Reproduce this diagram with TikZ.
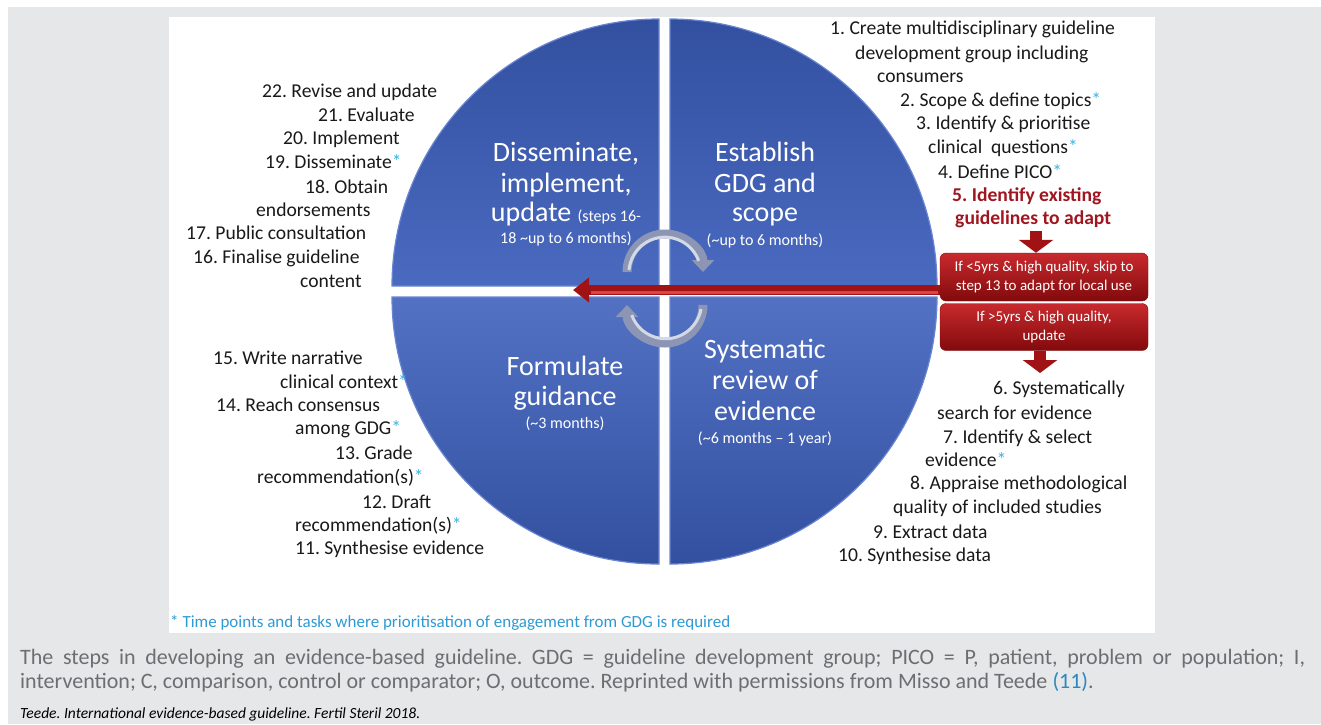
\documentclass[tikz,border=0pt]{standalone}
\usepackage{fontspec}
\setmainfont{Carlito}
\usetikzlibrary{arrows.meta}
\definecolor{bggray}{HTML}{E6E7E8}
\definecolor{qdark}{HTML}{3350A0}
\definecolor{qlight}{HTML}{4A6AC0}
\definecolor{qrim}{HTML}{6A86D2}
\definecolor{astblue}{HTML}{3DB2E2}
\definecolor{footblue}{HTML}{2E9AD4}
\definecolor{capgray}{HTML}{6D6E71}
\definecolor{refblue}{HTML}{2A88C0}
\definecolor{redtxt}{HTML}{A01620}
\definecolor{redtop}{HTML}{C82A2E}
\definecolor{redbot}{HTML}{820A0C}
\definecolor{redarr}{HTML}{A01214}
\definecolor{silver}{HTML}{8C96B4}
\definecolor{silverlt}{HTML}{D4D9E6}
\newcommand{\gdgast}{{\color{astblue}*}}
\frenchspacing
\tikzset{
  lst/.style={anchor=base west, inner sep=0pt, font=\fontsize{19.6}{24}\selectfont, text=black!90},
  redlst/.style={lst, font=\fontsize{19.6}{24}\selectfont\bfseries, text=redtxt},
  qbig/.style={anchor=base, inner sep=0pt, font=\fontsize{28}{31}\selectfont, text=white},
  qsmall/.style={anchor=base, inner sep=0pt, font=\fontsize{16}{19}\selectfont, text=white},
  quad/.style={draw=qrim, line width=1.2pt},
  redbox/.style={rounded corners=6pt, top color=redtop, bottom color=redbot, draw=redbot,
     minimum width=208pt, inner sep=0pt, align=center, text=white,
     font=\fontsize{15}{19}\selectfont},
  circarr/.style={line width=9pt, color=silver, -{Triangle[width=22pt,length=12pt]}},
  blockarr/.style={line width=12pt, color=redarr, -{Triangle[width=34pt,length=13pt]}},
  caps/.style={anchor=base west, inner sep=0pt, font=\fontsize{22}{24}\selectfont, text=capgray}
}
\begin{document}
\begin{tikzpicture}[x=1pt,y=-1pt]
\path[use as bounding box] (0,0) rectangle (1321,724);
\fill[white] (0,0) rectangle (1321,724);
\fill[bggray] (8,7) rectangle (1321,724);
\fill[white] (169,17) rectangle (1155,633);

% quadrants
\def\R{267}
\path[quad, top color=qdark, bottom color=qlight] (659,286) -- ++(-\R,0) arc[start angle=180,end angle=270,radius=\R] -- cycle;
\path[quad, top color=qdark, bottom color=qlight] (670,286) -- ++(0,-\R) arc[start angle=270,end angle=360,radius=\R] -- cycle;
\path[quad, top color=qlight!95!white, bottom color=qdark] (659,297) -- ++(-\R,0) arc[start angle=180,end angle=90,radius=\R] -- cycle;
\path[quad, top color=qlight!95!white, bottom color=qdark] (670,297) -- ++(0,\R) arc[start angle=90,end angle=0,radius=\R] -- cycle;

% quadrant texts
\node[qbig] (d1) at (566,161) {Disseminate,};
\node[qbig] (d2) at (566,192) {implement,};
\node[qbig] (d3) at (566,221) {update {\fontsize{16}{19}\selectfont (steps 16-}};
\node[qsmall] (d4) at (566,243) {18 \textasciitilde up to 6 months)};
\node[qbig] (e1) at (765,161) {Establish};
\node[qbig] (e2) at (765,192) {GDG and};
\node[qbig] (e3) at (765,221) {scope};
\node[qsmall] (e4) at (765,245) {(\textasciitilde up to 6 months)};
\node[qbig] (f1) at (565,375) {Formulate};
\node[qbig] (f2) at (565,405) {guidance};
\node[qsmall] (f3) at (565,428) {(\textasciitilde 3 months)};
\node[qbig] (s1) at (765,358) {Systematic};
\node[qbig] (s2) at (765,389) {review of};
\node[qbig] (s3) at (765,420) {evidence};
\node[qsmall] (s4) at (765,443) {(\textasciitilde 6 months -- 1 year)};

% circular arrows
\coordinate (ua) at (627,272);
\coordinate (la) at (703,305);
\draw[circarr] (ua) arc[start angle=180,end angle=360,radius=38];
\draw[line width=3pt, silverlt] (ua) ++(2,-2) arc[start angle=185,end angle=340,radius=36];
\draw[circarr] (la) arc[start angle=0,end angle=180,radius=38];
\draw[line width=3pt, silverlt] (la) ++(-2,4) arc[start angle=10,end angle=160,radius=36];

% right top list
\node[lst] (r1) at (830,34) {1. Create multidisciplinary guideline};
\node[lst] (r2) at (855,59) {development group including};
\node[lst] (r3) at (877,82) {consumers};
\node[lst] (r4) at (900,106) {2. Scope \& define topics\gdgast};
\node[lst] (r5) at (916,129) {3. Identify \& prioritise};
\node[lst] (r6) at (928,153) {clinical\ \ questions\gdgast};
\node[lst] (r7) at (938,178) {4. Define PICO\gdgast};
\node[redlst] (r8) at (952,201) {5. Identify existing};
\node[redlst] (r9) at (955,224) {guidelines to adapt};

% red boxes
\node[redbox, minimum height=48pt] (b1) at (1044,277) {If <5yrs \& high quality, skip to\\step 13 to adapt for local use};
\node[redbox, minimum height=47pt] (b2) at (1044,327) {If >5yrs \& high quality,\\update};
\coordinate (da1) at (1036,231);
\draw[blockarr] (da1) -- (da1 |- b1.north);
\coordinate (da2) at (1040,373);
\draw[blockarr] (da2 |- b2.south) -- (da2);

% red horizontal arrow
\coordinate (tip) at (573,290);
\draw[line width=10pt, redarr, -{Triangle[width=24pt,length=16pt]}] (b1.west |- tip) -- (tip);
\draw[line width=2.5pt, red!60!white, opacity=0.6] ([xshift=-2pt,yshift=-2.5pt]b1.west |- tip) -- ([xshift=18pt,yshift=-2.5pt]tip);

% left top list
\node[lst] (l22) at (262,97) {22. Revise and update};
\node[lst] (l21) at (318,121) {21. Evaluate};
\node[lst] (l20) at (283,144) {20. Implement};
\node[lst] (l19) at (265,168) {19. Disseminate\gdgast};
\node[lst] (l18) at (305,193) {18. Obtain};
\node[lst] (l18b) at (256,216) {endorsements};
\node[lst] (l17) at (186,239) {17. Public consultation};
\node[lst] (l16) at (193,263) {16. Finalise guideline};
\node[lst] (l16b) at (300,287) {content};

% left bottom list
\node[lst] (l15) at (213,364) {15. Write narrative};
\node[lst] (l15b) at (280,388) {clinical context\gdgast};
\node[lst] (l14) at (216,411) {14. Reach consensus};
\node[lst] (l14b) at (295,434) {among GDG\gdgast};
\node[lst] (l13) at (335,459) {13. Grade};
\node[lst] (l13b) at (257,483) {recommendation(s)\gdgast};
\node[lst] (l12) at (362,508) {12. Draft};
\node[lst] (l12b) at (295,531) {recommendation(s)\gdgast};
\node[lst] (l11) at (295,554) {11. Synthesise evidence};

% right bottom list
\node[lst] (r6a) at (993,394) {6. Systematically};
\node[lst] (r6b) at (937,419) {search for evidence};
\node[lst] (r7a) at (943,443) {7. Identify \& select};
\node[lst] (r7b) at (925,466) {evidence\gdgast};
\node[lst] (r8a) at (910,489) {8. Appraise methodological};
\node[lst] (r8b) at (893,513) {quality of included studies};
\node[lst] (r9a) at (873,538) {9. Extract data};
\node[lst] (r10) at (838,561) {10. Synthesise data};

% footnote
\node[anchor=base west, inner sep=0pt, font=\fontsize{17}{20}\selectfont, text=footblue] (fn) at (170,627) {* Time points and tasks where prioritisation of engagement from GDG is required};

% caption
\node[caps] (c1) at (20,664) {\makebox[1285pt][s]{The steps in developing an evidence-based guideline. GDG = guideline development group; PICO = P, patient, problem or population; I,}};
\node[caps] (c2) at (20,688) {intervention; C, comparison, control or comparator; O, outcome. Reprinted with permissions from Misso and Teede {\color{refblue}(11)}.};
\node[anchor=base west, inner sep=0pt, font=\fontsize{15.5}{18}\selectfont\itshape, text=black] (c3) at (20,718) {Teede. International evidence-based guideline. Fertil Steril 2018.};
\end{tikzpicture}
\end{document}
